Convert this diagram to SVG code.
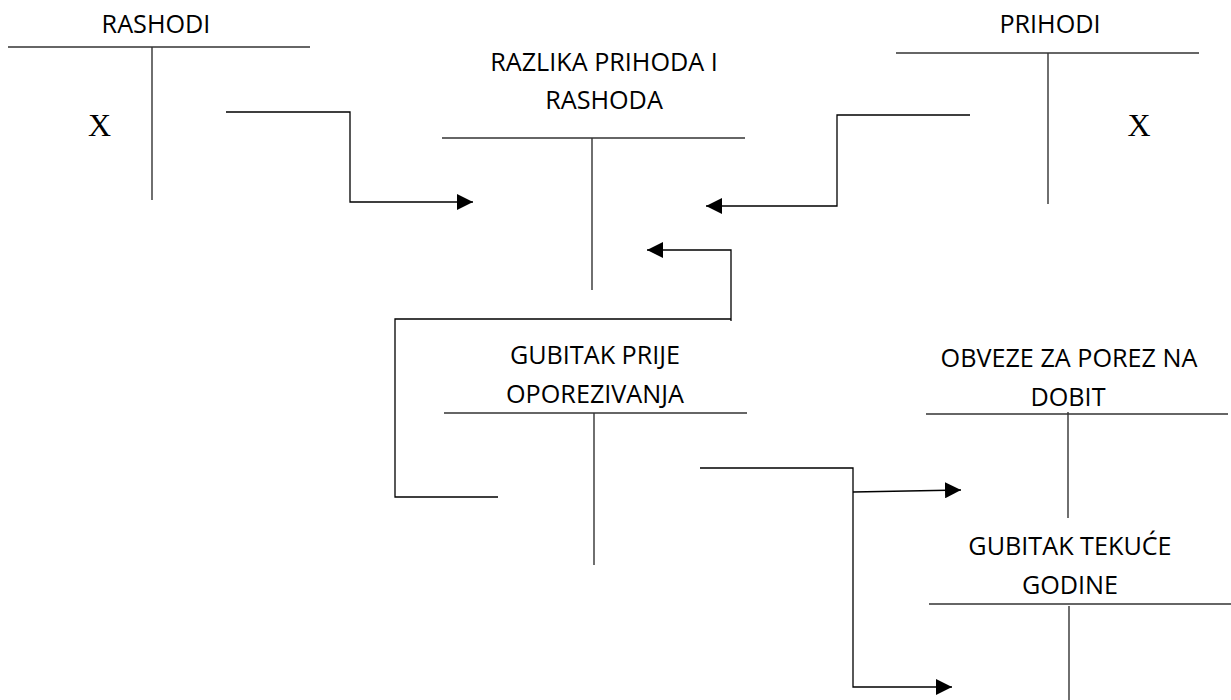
<svg xmlns="http://www.w3.org/2000/svg" width="1231" height="700" viewBox="0 0 1231 700">
<defs>
<marker id="arr" markerUnits="userSpaceOnUse" markerWidth="16" markerHeight="16" refX="16" refY="8" orient="auto">
<path d="M0,0 L16,8 L0,16 Z" fill="#000"/>
</marker>
<style>
.t{stroke:#333;stroke-width:1.4;fill:none}
.c{stroke:#000;stroke-width:1.3;fill:none}
.lb{font-family:"Open Sans","Liberation Sans",sans-serif;font-size:25.2px;fill:#000;text-anchor:middle}
.x{font-family:"Liberation Serif","Times New Roman",serif;font-size:32px;fill:#000;text-anchor:middle}
</style>
</defs>
<rect width="1231" height="700" fill="#fff"/>
<g id="rashodi">
<text class="lb" x="156" y="33">RASHODI</text>
<line class="t" x1="8" y1="47" x2="310" y2="47"/>
<line class="t" x1="152" y1="47" x2="152" y2="200"/>
<text class="x" x="99.5" y="136">X</text>
</g>
<g id="prihodi">
<text class="lb" x="1050" y="33">PRIHODI</text>
<line class="t" x1="896" y1="53" x2="1199" y2="53"/>
<line class="t" x1="1048" y1="53" x2="1048" y2="204"/>
<text class="x" x="1139" y="136">X</text>
</g>
<g id="razlika">
<text class="lb" x="604" y="71">RAZLIKA PRIHODA I</text>
<text class="lb" x="604" y="109">RASHODA</text>
<line class="t" x1="442" y1="138" x2="745" y2="138"/>
<line class="t" x1="592" y1="138" x2="592" y2="290"/>
</g>
<g id="gubitak-prije">
<text class="lb" x="595" y="364">GUBITAK PRIJE</text>
<text class="lb" x="595" y="403">OPOREZIVANJA</text>
<line class="t" x1="444" y1="413" x2="747" y2="413"/>
<line class="t" x1="594" y1="413" x2="594" y2="565"/>
</g>
<g id="obveze">
<text class="lb" x="1069" y="367">OBVEZE ZA POREZ NA</text>
<text class="lb" x="1068" y="406">DOBIT</text>
<line class="t" x1="926" y1="414" x2="1228" y2="414"/>
<line class="t" x1="1068" y1="412" x2="1068" y2="518"/>
</g>
<g id="gubitak-tekuce">
<text class="lb" x="1070" y="555">GUBITAK TEKUĆE</text>
<text class="lb" x="1070" y="594">GODINE</text>
<line class="t" x1="929" y1="604" x2="1231" y2="604"/>
<line class="t" x1="1069" y1="606" x2="1069" y2="700"/>
</g>
<g id="connectors">
<polyline class="c" points="226,112 350,112 350,202 473,202" marker-end="url(#arr)"/>
<polyline class="c" points="970,115 837,115 837,206 706,206" marker-end="url(#arr)"/>
<polyline class="c" points="498,497 395,497 395,319 731,319"/>
<polyline class="c" points="731,321 731,250 647,250" marker-end="url(#arr)"/>
<polyline class="c" points="700,468 853,468 853,687 952,687" marker-end="url(#arr)"/>
<line class="c" x1="853" y1="492" x2="961" y2="490" marker-end="url(#arr)"/>
</g>
</svg>
